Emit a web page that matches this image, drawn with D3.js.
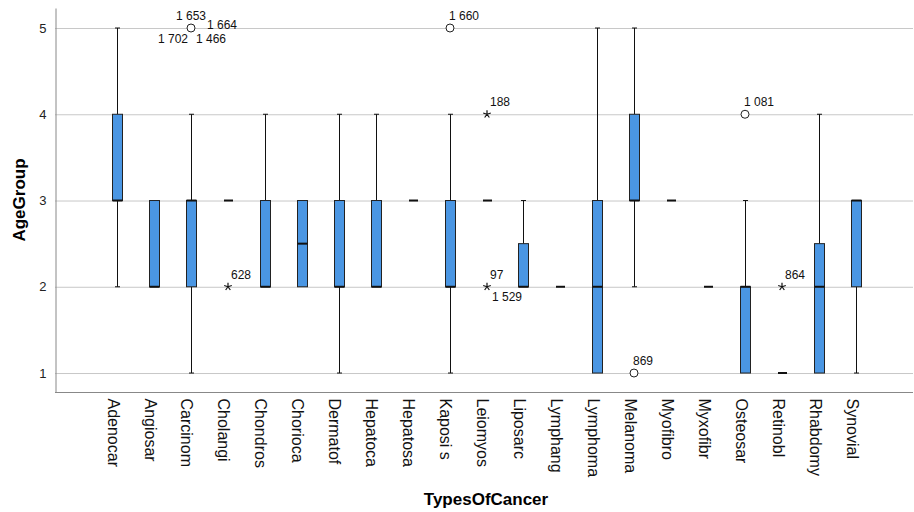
<!DOCTYPE html>
<html lang="en">
<head>
  <meta charset="UTF-8">
  <title>AgeGroup by TypesOfCancer</title>
  <script src="https://d3js.org/d3.v7.min.js"></script>
  <style>
    body { margin: 0; background: #fff; }
    text { font-family: "Liberation Sans", Arial, sans-serif; }
    .grid line { stroke: #c8c8c8; }
    .whisker { stroke: #111; }
    .box { fill: #4a96e3; stroke: #222; }
    .median { stroke: #111; stroke-width: 2; }
  </style>
</head>
<body>
<svg id="chart" width="914" height="512"></svg>
<script>
  // five-number summaries per cancer type (low whisker, q1, median, q3, high whisker)
  const categories = ['Adenocar', 'Angiosar', 'Carcinom', 'Cholangi', 'Chondros', 'Chorioca', 'Dermatof',
    'Hepatoca', 'Hepatosa', 'Kaposi s', 'Leiomyos', 'Liposarc', 'Lymphang', 'Lymphoma', 'Melanoma',
    'Myofibro', 'Myxofibr', 'Osteosar', 'Retinobl', 'Rhabdomy', 'Synovial'];
  const lowWhisker  = [2, 2, 1, 3, 2, 2,   1, 2, 3, 1, 3, 2,   2, 1, 2, 3, 2, 1, 1, 1,   1];
  const q1          = [3, 2, 2, 3, 2, 2,   2, 2, 3, 2, 3, 2,   2, 1, 3, 3, 2, 1, 1, 1,   2];
  const medians     = [3, 2, 3, 3, 2, 2.5, 2, 2, 3, 2, 3, 2,   2, 2, 3, 3, 2, 2, 1, 2,   3];
  const q3          = [4, 3, 3, 3, 3, 3,   3, 3, 3, 3, 3, 2.5, 2, 3, 4, 3, 2, 2, 1, 2.5, 3];
  const highWhisker = [5, 3, 4, 3, 4, 3,   4, 4, 3, 4, 3, 3,   2, 5, 5, 3, 2, 3, 1, 4,   3];

  const yTicks = [1, 2, 3, 4, 5];

  // outliers: o = circle, * = extreme; label placement codes
  const outliers = [
    { cat: 'Carcinom', value: 5, kind: 'o', labels: [['1 653', 'top'], ['1 664', 'right'], ['1 702', 'bl'], ['1 466', 'br']] },
    { cat: 'Cholangi', value: 2, kind: '*', labels: [['628', 'ur']] },
    { cat: 'Kaposi s', value: 5, kind: 'o', labels: [['1 660', 'ur']] },
    { cat: 'Leiomyos', value: 4, kind: '*', labels: [['188', 'ur']] },
    { cat: 'Leiomyos', value: 2, kind: '*', labels: [['97', 'ur'], ['1 529', 'lr']] },
    { cat: 'Melanoma', value: 1, kind: 'o', labels: [['869', 'ur']] },
    { cat: 'Osteosar', value: 4, kind: 'o', labels: [['1 081', 'ur']] },
    { cat: 'Retinobl', value: 2, kind: '*', labels: [['864', 'ur']] }
  ];

  const svg = d3.select('#chart');
  const plotLeft = 55, plotRight = 913, plotTop = 8, plotBottom = 392;
  const boxW = 10;

  const x = d3.scalePoint().domain(categories).range([plotLeft + 62, plotRight - 57]);
  const y = d3.scaleLinear().domain([0.78, 5.232]).range([plotBottom, plotTop]);

  // gridlines
  svg.append('g').attr('class', 'grid')
    .selectAll('line').data(yTicks).enter().append('line')
    .attr('x1', plotLeft).attr('x2', plotRight)
    .attr('y1', (d) => y(d) + 0.5).attr('y2', (d) => y(d) + 0.5);

  // y axis
  const yAxis = svg.append('g')
    .attr('transform', `translate(${plotLeft + 0.5},0)`)
    .call(d3.axisLeft(y).tickValues(yTicks).tickSize(0).tickPadding(9).tickFormat(d3.format('d')));
  yAxis.select('.domain').attr('stroke', '#888');
  yAxis.selectAll('text').attr('font-size', 13).attr('fill', '#222');

  // x axis, labels rotated to read top to bottom
  const xAxis = svg.append('g')
    .attr('transform', `translate(0,${plotBottom + 0.5})`)
    .call(d3.axisBottom(x).tickSize(0).tickSizeOuter(0));
  xAxis.select('.domain').attr('d', `M${plotLeft},0H${plotRight}`).attr('stroke', '#888');
  xAxis.selectAll('text')
    .attr('font-size', 16).attr('fill', '#111')
    .attr('text-anchor', 'start')
    .attr('transform', 'rotate(90)')
    .attr('x', 6).attr('y', 0).attr('dy', '0.62em');

  // boxes
  const rows = categories.map((c, i) => ({ c, lo: lowWhisker[i], q1: q1[i], med: medians[i], q3: q3[i], hi: highWhisker[i] }));
  const g = svg.append('g').selectAll('g').data(rows).enter().append('g')
    .attr('transform', (d) => `translate(${Math.round(x(d.c)) + 0.5},0)`);

  g.filter((d) => d.hi > d.q3).append('line').attr('class', 'whisker')
    .attr('y1', (d) => y(d.q3)).attr('y2', (d) => y(d.hi));
  g.filter((d) => d.hi > d.q3).append('line').attr('class', 'whisker')
    .attr('x1', -2.5).attr('x2', 2.5).attr('y1', (d) => y(d.hi)).attr('y2', (d) => y(d.hi));
  g.filter((d) => d.lo < d.q1).append('line').attr('class', 'whisker')
    .attr('y1', (d) => y(d.q1)).attr('y2', (d) => y(d.lo));
  g.filter((d) => d.lo < d.q1).append('line').attr('class', 'whisker')
    .attr('x1', -2.5).attr('x2', 2.5).attr('y1', (d) => y(d.lo)).attr('y2', (d) => y(d.lo));

  g.filter((d) => d.q3 > d.q1).append('rect').attr('class', 'box')
    .attr('x', -boxW / 2).attr('width', boxW)
    .attr('y', (d) => y(d.q3)).attr('height', (d) => y(d.q1) - y(d.q3));

  g.append('line').attr('class', 'median')
    .attr('x1', (d) => d.q3 > d.q1 ? -boxW / 2 : -4.5)
    .attr('x2', (d) => d.q3 > d.q1 ? boxW / 2 : 4.5)
    .attr('y1', (d) => y(d.med)).attr('y2', (d) => y(d.med));

  // outlier markers
  const star = {
    draw(ctx, size) {
      const r = Math.sqrt(size);
      for (let k = 0; k < 5; k++) {
        const a = -Math.PI / 2 + k * 2 * Math.PI / 5;
        ctx.moveTo(0, 0);
        ctx.lineTo(r * Math.cos(a), r * Math.sin(a));
      }
    }
  };
  const og = svg.append('g').selectAll('g').data(outliers).enter().append('g')
    .attr('transform', (d) => `translate(${Math.round(x(d.cat))},${y(d.value)})`);
  og.filter((d) => d.kind === 'o').append('circle')
    .attr('r', 4).attr('fill', '#fff').attr('stroke', '#222');
  og.filter((d) => d.kind === '*').append('path')
    .attr('d', d3.symbol().type(star).size(16)).attr('stroke', '#111').attr('stroke-width', 1.2).attr('fill', 'none');

  const place = {
    top: { dx: 0, dy: -12, anchor: 'middle' },
    right: { dx: 16, dy: -3, anchor: 'start' },
    bl: { dx: -3, dy: 11, anchor: 'end' },
    br: { dx: 5, dy: 11, anchor: 'start' },
    ur: { dx: 3, dy: -12, anchor: 'start' },
    lr: { dx: 5, dy: 10, anchor: 'start' }
  };
  og.selectAll('text').data((d) => d.labels.map((l) => ({ text: l[0], p: place[l[1]], kind: d.kind })))
    .enter().append('text')
    .attr('x', (d) => d.p.dx - (d.kind === 'o' && d.p === place.ur ? 4 : 0))
    .attr('y', (d) => d.p.dy)
    .attr('dy', '0.35em')
    .attr('text-anchor', (d) => d.p.anchor)
    .attr('font-size', 12).attr('fill', '#111')
    .text((d) => d.text);

  // axis titles
  svg.append('text')
    .attr('transform', `translate(25,${(plotTop + plotBottom) / 2}) rotate(-90)`)
    .attr('text-anchor', 'middle').attr('font-size', 17).attr('font-weight', 'bold')
    .text('AgeGroup');
  svg.append('text')
    .attr('x', 486).attr('y', 505)
    .attr('text-anchor', 'middle').attr('font-size', 17).attr('font-weight', 'bold')
    .text('TypesOfCancer');
</script>
</body>
</html>
